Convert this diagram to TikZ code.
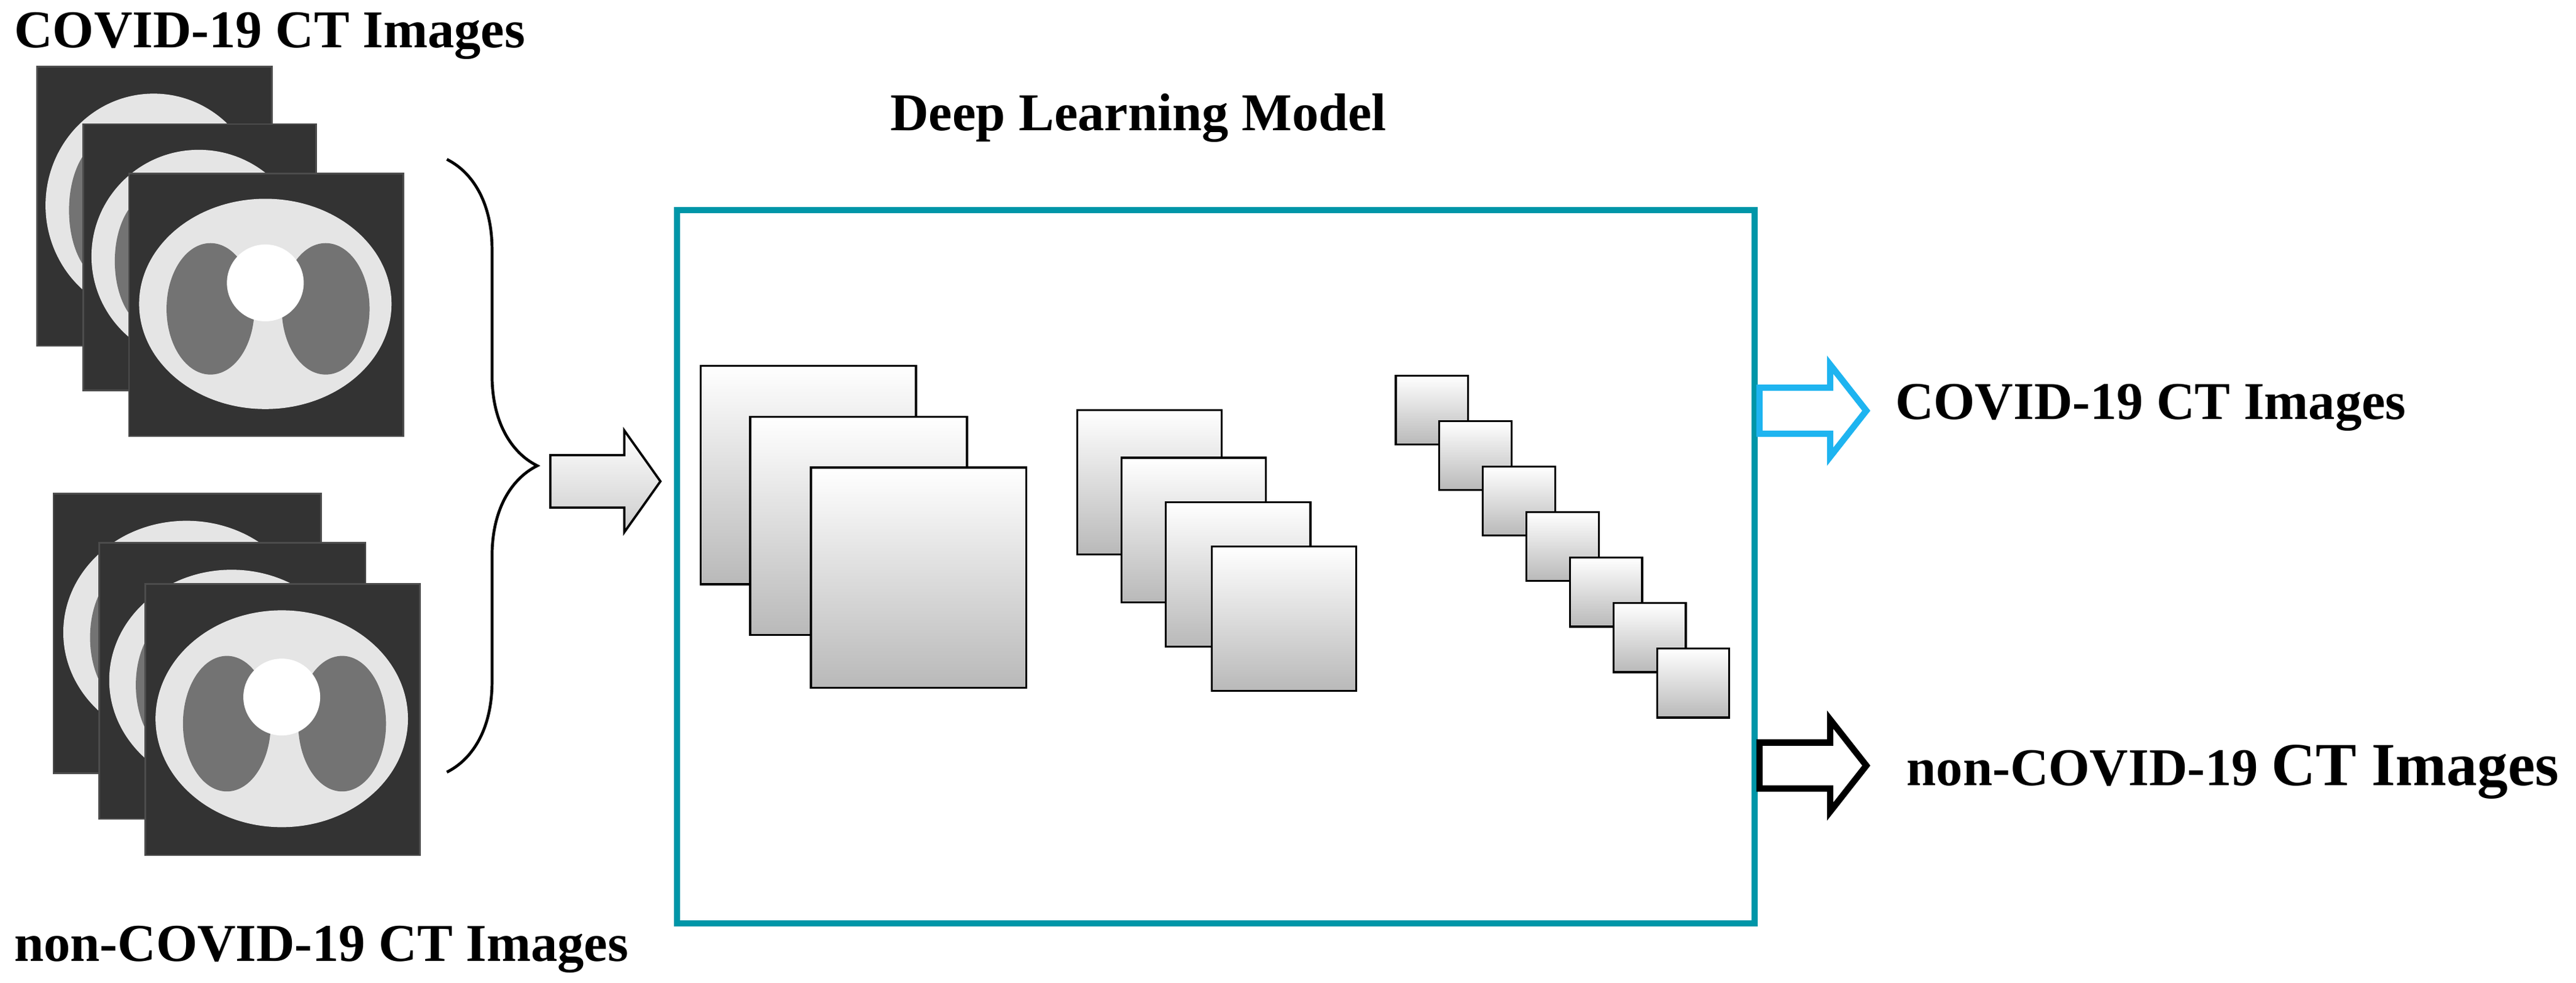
\documentclass[tikz,border=0pt]{standalone}
\usepackage{fontspec}
\setmainfont{Liberation Serif}
\usetikzlibrary{decorations.pathreplacing}
\begin{document}
\begin{tikzpicture}[x=0.01cm,y=-0.01cm,
  lbl/.style={font=\bfseries\fontsize{9.2}{11}\selectfont,inner sep=0pt},
  fm/.style={draw=black,line width=0.35pt,top color=white,bottom color=gray!55,anchor=north west,inner sep=0pt},
  ct/.style={draw=black!70,line width=0.3pt,fill=black!80},
  teal/.style={draw={rgb,255:red,0;green,150;blue,168},line width=1.1pt},
  outarr/.style={line width=1.1pt,fill=white,line join=miter}]
\useasboundingbox (0,0) rectangle (1568,598);
\newcommand{\ctimg}[5]{% x1 y1 x2 y2 name
  \node[ct,minimum width={(#3-#1)*0.01cm},minimum height={(#4-#2)*0.01cm},anchor=north west,inner sep=0pt] (#5) at (#1,#2) {};
  \fill[black!10] ({(#1+#3)/2},{(#2+#4)/2}) ellipse ({(#3-#1)*0.46} and {(#4-#2)*0.40});
  \fill[black!55] ({#1+(#3-#1)*0.3},{(#2+#4)/2+3}) ellipse ({(#3-#1)*0.16} and {(#4-#2)*0.25});
  \fill[black!55] ({#1+(#3-#1)*0.72},{(#2+#4)/2+3}) ellipse ({(#3-#1)*0.16} and {(#4-#2)*0.25});
  \fill[white] ({(#1+#3)/2},{#2+(#4-#2)*0.42}) circle ({(#3-#1)*0.14});
}
\newcommand{\fmap}[4]{\node[fm,minimum width={#3*0.01cm},minimum height={#4*0.01cm}] at (#1,#2) {};}
\newcommand{\blockarrow}[7]{% style, x0, xh, xt, yc, half shaft, half head
  \draw[#1] (#2,#5-#6) -- (#3,#5-#6) -- (#3,#5-#7) -- (#4,#5) -- (#3,#5+#7) -- (#3,#5+#6) -- (#2,#5+#6) -- cycle;}
\node[lbl,anchor=west] (t1) at (8,22) {COVID-19 CT Images};
\ctimg{22}{40}{165}{210}{a1}
\ctimg{50}{75}{192}{237}{a2}
\ctimg{78}{105}{245}{265}{a3}
\ctimg{32}{300}{195}{470}{b1}
\ctimg{60}{330}{222}{498}{b2}
\ctimg{88}{355}{255}{520}{b3}
\node[lbl,anchor=west] (t2) at (8,578) {non-COVID-19 CT Images};
\draw[line width=0.5pt,decorate,decoration={brace,amplitude=0.55cm}] (272,97) -- (272,470);
\blockarrow{draw=black,line width=0.4pt,top color=white,bottom color=gray!40}{335}{380}{402}{293}{16}{31}
\node[lbl,anchor=center] (dl) at (693,72) {Deep Learning Model};
\draw[teal] (412,128) rectangle (1068,562);
\fmap{426}{222}{131}{133}
\fmap{456}{253}{132}{133}
\fmap{493}{284}{131}{134}
\foreach \x/\y in {655/249,682/278,709/305,737/332}{\fmap{\x}{\y}{88}{88}}
\foreach \i in {0,...,6}{\fmap{849+26.5*\i}{228+27.7*\i}{44}{42}}
\blockarrow{outarr,draw={rgb,255:red,30;green,180;blue,240}}{1071}{1114}{1136}{250}{14}{28}
\node[lbl,anchor=west] (o1) at (1153,248) {COVID-19 CT Images};
\blockarrow{outarr,draw=black}{1071}{1114}{1136}{466}{14}{28}
\node[lbl,anchor=west] (o2) at (1160,470) {non-COVID-19 {\fontsize{10.6}{12}\selectfont CT Images}};
\end{tikzpicture}
\end{document}
